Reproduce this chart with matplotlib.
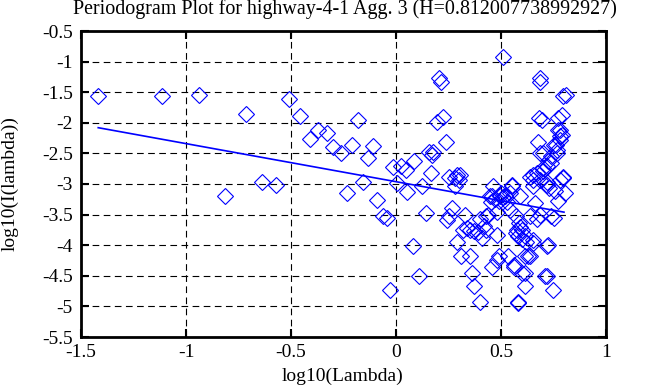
import numpy as np
import matplotlib
matplotlib.use('Agg')
import matplotlib.pyplot as plt

plt.rcParams['font.family'] = ['Liberation Serif', 'DejaVu Serif']

title = 'Periodogram Plot for highway-4-1 Agg. 3 (H=0.812007738992927)'

# periodogram points (log10 lambda, log10 I)
log_lambda = [
    -1.42, -1.115, -0.94, -0.815, -0.714, -0.64, -0.57, -0.51, -0.457, -0.41,
    -0.37, -0.33, -0.30, -0.263, -0.235, -0.21, -0.18, -0.155, -0.132, -0.11,
    -0.089, -0.06, -0.045, -0.029, -0.013, 0.003, 0.024, 0.049, 0.05, 0.082,
    0.086, 0.11, 0.122, 0.143, 0.155, 0.167, 0.17, 0.178, 0.193, 0.206,
    0.214, 0.225, 0.238, 0.241, 0.25, 0.254, 0.265, 0.28, 0.28, 0.289,
    0.29, 0.30, 0.305, 0.31, 0.35, 0.32, 0.329, 0.34, 0.35, 0.37,
    0.36, 0.37, 0.40, 0.39, 0.40, 0.41, 0.42, 0.43, 0.44, 0.43,
    0.447, 0.456, 0.46, 0.456, 0.48, 0.48, 0.48, 0.49, 0.495, 0.50,
    0.51, 0.52, 0.543, 0.55, 0.55, 0.535, 0.543, 0.56, 0.56, 0.57,
    0.575, 0.585, 0.59, 0.60, 0.616, 0.57, 0.58, 0.616, 0.616, 0.615,
    0.63, 0.64, 0.64, 0.654, 0.654, 0.662, 0.654, 0.654, 0.64, 0.654,
    0.67, 0.67, 0.686, 0.686, 0.686, 0.686, 0.686, 0.683, 0.694, 0.678,
    0.70, 0.70, 0.70, 0.718, 0.718, 0.72, 0.72, 0.725, 0.718, 0.725,
    0.73, 0.74, 0.74, 0.74, 0.746, 0.75, 0.75, 0.757, 0.765, 0.765,
    0.773, 0.773, 0.78, 0.78, 0.78, 0.789, 0.789, 0.797, 0.808, 0.797,
    0.797, 0.805, 0.60, 0.58, 0.78, 0.77, 0.76, 0.71,
    0.47, 0.49, 0.51, 0.53, 0.45, 0.58, 0.60, 0.59, 0.62,
]
log_I = [
    -1.56, -1.57, -1.55, -3.20, -1.86, -2.97, -3.01, -1.61, -1.89, -2.26,
    -2.12, -2.17, -2.39, -2.50, -3.15, -2.37, -1.95, -2.96, -2.57, -2.38,
    -3.26, -3.52, -3.55, -4.73, -2.73, -2.98, -2.71, -2.77, -3.13, -4.01,
    -2.63, -4.50, -3.04, -3.47, -2.47, -2.82, -2.52, -2.47, -1.98, -1.27,
    -1.34, -1.91, -2.31, -3.59, -2.88, -3.53, -3.40, -2.90, -3.04, -3.94,
    -2.85, -2.93, -2.85, -4.18, -4.18, -3.75, -3.50, -3.72, -3.75, -3.77,
    -4.45, -4.67, -4.93, -3.78, -3.58, -3.88, -3.69, -3.53, -3.50, -3.75,
    -3.20, -3.20, -3.04, -4.36, -4.24, -3.45, -3.83, -4.18, -3.20, -3.15,
    -0.92, -3.20, -3.15, -3.01, -3.04, -4.18, -3.42, -4.35, -4.32, -3.53,
    -3.75, -3.64, -3.20, -3.75, -3.85, -3.80, -4.92, -4.67, -4.45, -4.18,
    -4.18, -4.18, -3.53, -3.96, -3.91, -3.31, -3.04, -2.93, -2.88, -2.85,
    -2.82, -3.58, -3.50, -2.93, -2.50, -1.26, -1.34, -1.92, -1.95, -2.31,
    -2.50, -2.74, -2.79, -2.71, -3.01, -2.97, -4.02, -4.00, -4.51, -2.63,
    -3.07, -2.55, -2.66, -3.53, -4.73, -2.36, -3.56, -3.12, -2.44, -2.50,
    -1.92, -3.28, -2.11, -2.28, -2.93, -1.87, -2.20, -1.57, -1.54, -2.88,
    -2.90, -3.15, -4.45, -4.94, -2.22, -2.11, -2.36, -4.51,
    -3.25, -3.28, -3.22, -3.30, -3.30, -3.85, -3.90, -3.70, -3.95,
]

# least squares fit line end points
fit_x = [-1.418, 0.80]
fit_y = [-2.08, -3.46]

xticks = [-1.5, -1, -0.5, 0, 0.5, 1]
yticks = [-5.5, -5, -4.5, -4, -3.5, -3, -2.5, -2, -1.5, -1, -0.5]

fig = plt.figure(figsize=(6.58, 3.87), dpi=100)
ax = fig.add_axes([81/658, 1-337/387, 525/658, 306/387])

ax.plot(log_lambda, log_I, linestyle='none', marker='D', markersize=7.8,
        markerfacecolor='none', markeredgecolor='blue', markeredgewidth=0.8)
ax.plot(fit_x, fit_y, color='blue', linewidth=1.2)

ax.set_xlim(-1.5, 1)
ax.set_ylim(-5.5, -0.5)
ax.set_xticks(xticks)
ax.set_yticks(yticks)
ax.set_xticklabels(['%g' % t for t in xticks])
ax.set_yticklabels(['%g' % t for t in yticks])
ax.grid(True, color='black', linestyle=(0, (6, 4)), linewidth=0.8)
ax.tick_params(direction='in', length=6, width=1.5, top=True, right=True,
               labelsize=14, pad=6)
ax.tick_params(axis='x', pad=5)
for s in ax.spines.values():
    s.set_linewidth(2)

fig.text(343/658, 1-376/387, 'log10(Lambda)', ha='center', va='center', fontsize=14)
fig.text(10/658, 1-184/387, 'log10(I(lambda))', ha='center', va='center',
         rotation=90, fontsize=14)
fig.text(345/658, 1-9/387, title, ha='center', va='center', fontsize=14.4)

plt.savefig('out.png', dpi=100)
